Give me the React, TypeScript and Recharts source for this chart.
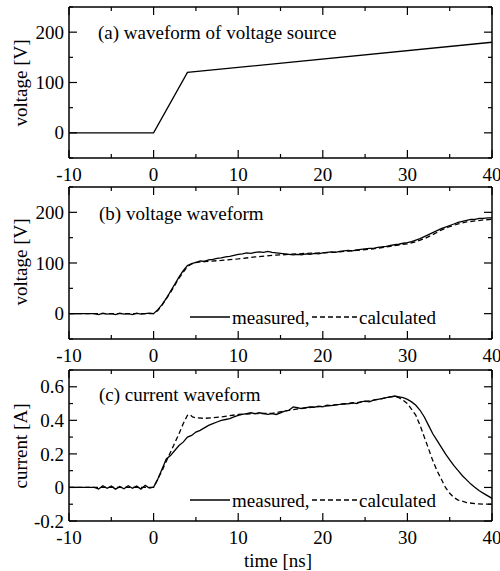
import React from 'react';
import { LineChart, Line, XAxis, YAxis } from 'recharts';

const FONT = "'Liberation Serif', 'Times New Roman', Times, serif";

// ---- x axis ticks (shared) ----
const xTicks = [-10, -5, 0, 5, 10, 15, 20, 25, 30, 35, 40];
const xMajor = [-10, 0, 10, 20, 30, 40];

// ---- panel (a): source waveform ----
const srcTime = [-10, 0, 4, 40];
const srcVolt = [0, 0, 120, 180];
const vTicks = [-50, 0, 50, 100, 150, 200, 250];
const vMajor = [0, 100, 200];

// ---- panel (b): voltage waveform ----
const measVTime = [-10, -7, -6.5, -6, -5.5, -5, -4.5, -4, -3.5, -3, -2.5, -2, -1.5, -1, -0.5, 0,
  0.5, 1, 1.5, 2, 2.5, 3, 3.5, 4, 4.5, 5, 5.5, 6, 6.5, 7, 7.5, 8, 8.5, 9, 9.5, 10,
  10.5, 11, 11.5, 12, 12.5, 13, 13.5, 14, 14.5, 15, 15.5, 16, 16.5, 17, 17.5, 18, 18.5, 19, 19.5, 20,
  20.5, 21, 21.5, 22, 22.5, 23, 23.5, 24, 24.5, 25, 25.5, 26, 26.5, 27, 27.5, 28, 28.5, 29, 29.5, 30,
  30.5, 31, 31.5, 32, 32.5, 33, 33.5, 34, 34.5, 35, 35.5, 36, 36.5, 37, 37.5, 38, 38.5, 39, 39.5, 40];
const measVVal = [0, 0, -2, 1, -1, 0, -2, 1, -1, 0, -2, 1, -1, 0, 1, 0,
  8, 18, 30, 44, 58, 72, 85, 95, 99, 101, 104, 103, 106, 107, 109, 110, 112, 113, 115, 117,
  118, 120, 119, 121, 122, 121, 123, 121, 120, 119, 118, 117, 116, 117, 116, 118, 117, 119, 118, 120,
  121, 122, 121, 123, 124, 125, 124, 126, 127, 128, 129, 129, 131, 132, 133, 135, 136, 137, 139, 140,
  142, 145, 148, 152, 156, 160, 164, 168, 171, 174, 177, 180, 182, 184, 186, 186, 188, 188, 189, 189];
const calcVTime = [-10, 0, 0.5, 1, 2, 3, 4, 4.5, 5, 6, 8, 10, 12, 14, 16, 18, 20, 22, 24, 26, 28, 30, 31, 32, 33, 34, 35, 36, 37, 38, 39, 40];
const calcVVal = [0, 0, 6, 17, 42, 70, 93, 98, 101, 103, 105, 108, 112, 115, 117, 119, 120, 122, 125, 128, 133, 138, 142, 148, 156, 165, 172, 177, 181, 183, 185, 186];

// ---- panel (c): current waveform ----
const iTicks = [-0.2, -0.1, 0, 0.1, 0.2, 0.3, 0.4, 0.5, 0.6, 0.7];
const iMajor = [-0.2, 0, 0.2, 0.4, 0.6];
const measITime = measVTime;
const measIVal = [0, 0, -0.01, 0.01, -0.005, 0.008, -0.01, 0.005, -0.008, 0.01, -0.005, 0.008, -0.01, 0.012, -0.004, 0.002,
  0.05, 0.11, 0.17, 0.19, 0.22, 0.25, 0.27, 0.3, 0.31, 0.33, 0.34, 0.355, 0.37, 0.38, 0.39, 0.4, 0.405, 0.41, 0.42, 0.43,
  0.435, 0.44, 0.445, 0.44, 0.445, 0.44, 0.435, 0.44, 0.435, 0.445, 0.455, 0.46, 0.48, 0.475, 0.47, 0.475, 0.48, 0.478, 0.485, 0.48,
  0.49, 0.488, 0.492, 0.495, 0.5, 0.498, 0.505, 0.5, 0.51, 0.515, 0.51, 0.52, 0.525, 0.53, 0.535, 0.54, 0.545, 0.54, 0.535, 0.525,
  0.51, 0.49, 0.46, 0.42, 0.37, 0.32, 0.28, 0.24, 0.2, 0.165, 0.13, 0.1, 0.07, 0.045, 0.02, 0, -0.02, -0.035, -0.05, -0.065];
const calcITime = [-10, 0, 0.5, 1, 2, 3, 3.5, 4, 4.3, 4.6, 5, 6, 7, 8, 10, 12, 14, 16, 18, 20, 22, 24, 26, 27, 28, 28.5, 29, 29.5, 30, 30.5, 31, 31.5, 32, 32.5, 33, 33.5, 34, 34.5, 35, 35.5, 36, 37, 38, 39, 40];
const calcIVal = [0, 0, 0.05, 0.1, 0.21, 0.32, 0.38, 0.43, 0.435, 0.42, 0.415, 0.412, 0.415, 0.42, 0.435, 0.44, 0.442, 0.46, 0.475, 0.483, 0.495, 0.505, 0.52, 0.53, 0.54, 0.542, 0.535, 0.52, 0.5, 0.465, 0.43, 0.37, 0.3, 0.23, 0.16, 0.1, 0.05, 0, -0.035, -0.06, -0.075, -0.09, -0.097, -0.1, -0.1];

const toData = (ts: number[], vs: number[]) => ts.map((t, i) => ({ t, v: vs[i] }));

const isMajor = (v: number, majors: number[]) => majors.some((m) => Math.abs(m - v) < 1e-9);
const fmt = (v: number) => {
  const r = Math.round(v * 1000) / 1000;
  return r === 0 ? '0' : String(r);
};

const W = 500;
const H = 571;
const FS = 19;
const AX = { stroke: '#000', strokeWidth: 1.5 };

const BottomTick = (p: any, majors: number[]) => {
  const { x, y, payload } = p;
  const major = isMajor(payload.value, majors);
  return (
    <g>
      <line x1={x} y1={y} x2={x} y2={y - (major ? 8 : 4)} stroke="#000" strokeWidth={1.2} />
      {major && (
        <text x={x} y={y + 16} dy="0.35em" textAnchor="middle" fontFamily={FONT} fontSize={FS} fill="#000">
          {fmt(payload.value)}
        </text>
      )}
    </g>
  );
};
const TopTick = (p: any, majors: number[]) => {
  const { x, y, payload } = p;
  const major = isMajor(payload.value, majors);
  return <line x1={x} y1={y} x2={x} y2={y + (major ? 8 : 4)} stroke="#000" strokeWidth={1.2} />;
};
const LeftTick = (p: any, majors: number[]) => {
  const { x, y, payload } = p;
  const major = isMajor(payload.value, majors);
  return (
    <g>
      <line x1={x} y1={y} x2={x + (major ? 8 : 4)} y2={y} stroke="#000" strokeWidth={1.2} />
      {major && (
        <text x={x - 5} y={y} dy="0.35em" textAnchor="end" fontFamily={FONT} fontSize={FS} fill="#000">
          {fmt(payload.value)}
        </text>
      )}
    </g>
  );
};
const RightTick = (p: any, majors: number[]) => {
  const { x, y, payload } = p;
  const major = isMajor(payload.value, majors);
  return <line x1={x} y1={y} x2={x - (major ? 8 : 4)} y2={y} stroke="#000" strokeWidth={1.2} />;
};

type PanelProps = {
  top: number;
  bottom: number;
  yDomain: [number, number];
  yTicks: number[];
  yMajor: number[];
  children: React.ReactNode;
};

// plot area: left 69, right 492; axes are 1px thick containers
const Panel = ({ top, bottom, yDomain, yTicks, yMajor, children }: PanelProps) => (
  <div style={{ position: 'absolute', left: 0, top: 0 }}>
    <LineChart width={W} height={H} margin={{ top: top - 1, bottom: H - bottom - 1, left: 68, right: 7 }}>
      <XAxis
        xAxisId={0}
        dataKey="t"
        type="number"
        domain={[-10, 40]}
        allowDataOverflow
        ticks={xTicks}
        interval={0}
        height={1}
        tickSize={0}
        tickMargin={0}
        tickLine={false}
        axisLine={AX}
        tick={(p: any) => BottomTick(p, xMajor)}
      />
      <XAxis
        xAxisId="top"
        orientation="top"
        dataKey="t"
        type="number"
        domain={[-10, 40]}
        allowDataOverflow
        ticks={xTicks}
        interval={0}
        height={1}
        tickSize={0}
        tickMargin={0}
        tickLine={false}
        axisLine={AX}
        tick={(p: any) => TopTick(p, xMajor)}
      />
      <YAxis
        yAxisId={0}
        type="number"
        domain={yDomain}
        allowDataOverflow
        ticks={yTicks}
        interval={0}
        width={1}
        tickSize={0}
        tickMargin={0}
        tickLine={false}
        axisLine={AX}
        tick={(p: any) => LeftTick(p, yMajor)}
      />
      <YAxis
        yAxisId="right"
        orientation="right"
        type="number"
        domain={yDomain}
        allowDataOverflow
        ticks={yTicks}
        interval={0}
        width={1}
        tickSize={0}
        tickMargin={0}
        tickLine={false}
        axisLine={AX}
        tick={(p: any) => RightTick(p, yMajor)}
      />
      {children}
    </LineChart>
  </div>
);

const txt = { fontFamily: FONT, fontSize: FS, fill: '#000' } as const;

const Legend2 = ({ y }: { y: number }) => (
  <g>
    <line x1={190} y1={y} x2={230} y2={y} stroke="#000" strokeWidth={1.3} />
    <text x={232} y={y} dy="0.35em" {...txt}>measured,</text>
    <line x1={312} y1={y} x2={357} y2={y} stroke="#000" strokeWidth={1.3} strokeDasharray="5 3" />
    <text x={359} y={y} dy="0.35em" {...txt}>calculated</text>
  </g>
);

export default function App() {
  return (
    <div style={{ position: 'absolute', left: 0, top: 0, width: W, height: H, background: '#fff' }}>
      <Panel top={7} bottom={158} yDomain={[-50, 250]} yTicks={vTicks} yMajor={vMajor}>
        <Line data={toData(srcTime, srcVolt)} dataKey="v" stroke="#000" strokeWidth={1.3} dot={false} isAnimationActive={false} />
        <text x={98} y={32} dy="0.35em" {...txt}>(a) waveform of voltage source</text>
        <text x={20} y={83} dy="0.35em" textAnchor="middle" transform="rotate(-90 20 83)" {...txt}>voltage [V]</text>
      </Panel>
      <Panel top={187} bottom={339} yDomain={[-50, 250]} yTicks={vTicks} yMajor={vMajor}>
        <Line data={toData(calcVTime, calcVVal)} dataKey="v" stroke="#000" strokeWidth={1.3} strokeDasharray="5 3" dot={false} isAnimationActive={false} />
        <Line data={toData(measVTime, measVVal)} dataKey="v" stroke="#000" strokeWidth={1.3} dot={false} isAnimationActive={false} />
        <text x={99} y={213} dy="0.35em" {...txt}>(b) voltage waveform</text>
        <text x={20} y={262} dy="0.35em" textAnchor="middle" transform="rotate(-90 20 262)" {...txt}>voltage [V]</text>
        <Legend2 y={317} />
      </Panel>
      <Panel top={370} bottom={521} yDomain={[-0.2, 0.7]} yTicks={iTicks} yMajor={iMajor}>
        <Line data={toData(calcITime, calcIVal)} dataKey="v" stroke="#000" strokeWidth={1.3} strokeDasharray="5 3" dot={false} isAnimationActive={false} />
        <Line data={toData(measITime, measIVal)} dataKey="v" stroke="#000" strokeWidth={1.3} dot={false} isAnimationActive={false} />
        <text x={99} y={394} dy="0.35em" {...txt}>(c) current waveform</text>
        <text x={20} y={446} dy="0.35em" textAnchor="middle" transform="rotate(-90 20 446)" {...txt}>current [A]</text>
        <Legend2 y={500} />
        <text x={278} y={560} dy="0.35em" textAnchor="middle" {...txt}>time [ns]</text>
      </Panel>
    </div>
  );
}
